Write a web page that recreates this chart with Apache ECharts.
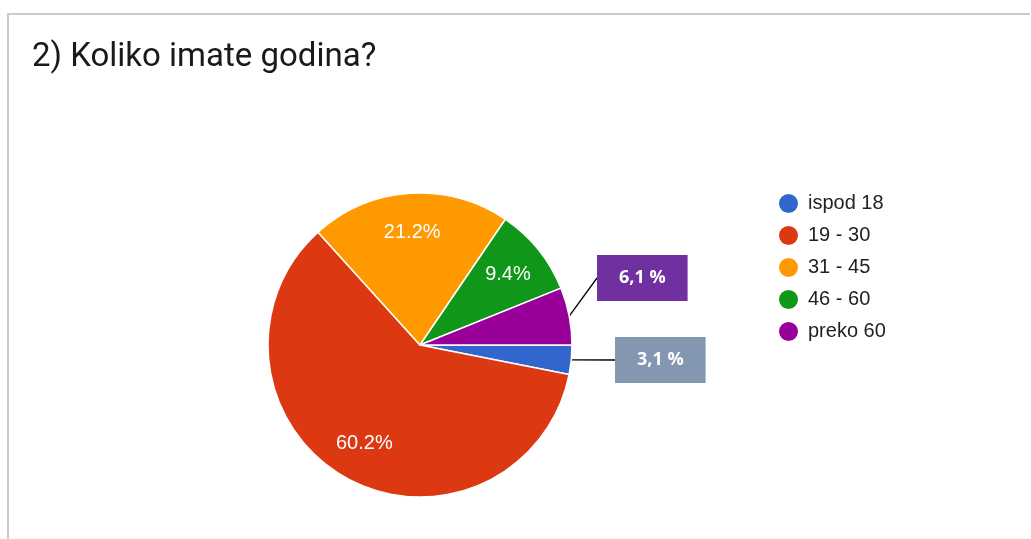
<!DOCTYPE html>
<html><head><meta charset="utf-8">
<script src="https://cdn.jsdelivr.net/npm/echarts@6/dist/echarts.min.js"></script>
<style>
html,body{margin:0;padding:0;background:#fff;overflow:hidden}
#frame{position:absolute;left:7px;top:13px;right:1px;bottom:-5px;border-top:2px solid #cbcbcb;border-left:2px solid #cbcbcb}
#c{position:absolute;left:0;top:0;width:1031px;height:539px}
</style></head>
<body><div id="frame"></div><div id="c"></div>
<script>
const titleText = '2) Koliko imate godina?';
const categories = ['ispod 18', '19 - 30', '31 - 45', '46 - 60', 'preko 60'];
const values = [3.1, 60.2, 21.2, 9.4, 6.1];
const colors = ['#3366CC', '#DC3912', '#FF9900', '#109618', '#990099'];
const insideLabelShown = [false, true, true, true, false];
const calloutShown = [true, false, false, false, true];
const calloutColors = ['#8497B0', null, null, null, '#7030A0'];

const chart = echarts.init(document.getElementById('c'), null, {renderer: 'canvas'});

const mainData = categories.map((n, i) => {
  const d = {name: n, value: values[i], itemStyle: {color: colors[i]}};
  if (calloutShown[i]) {
    d.label = {
      show: true, position: 'outside',
      formatter: p => p.value.toFixed(1).replace('.', ',') + ' %',
      color: '#fff', fontWeight: 'bold', fontSize: 18, lineHeight: 18,
      fontFamily: 'Open Sans', backgroundColor: calloutColors[i], padding: [14, 22]
    };
    d.labelLine = {show: true, length: 0, length2: 0, lineStyle: {color: '#000', width: 1.3}};
  }
  return d;
});
const overlayData = categories.map((n, i) => ({
  name: n, value: values[i],
  label: {show: insideLabelShown[i]}
}));

chart.setOption({
  animation: false,
  color: colors,
  title: {
    text: titleText, left: 27, top: 36,
    textStyle: {fontFamily: 'Roboto', fontSize: 33, fontWeight: 'normal', color: '#1a1a1a'}
  },
  legend: {
    orient: 'vertical', left: 772, top: 187,
    data: categories,
    icon: 'circle', itemWidth: 29, itemHeight: 21, itemGap: 9,
    textStyle: {fontFamily: 'Liberation Sans', fontSize: 20, color: '#222'},
    selectedMode: false
  },
  series: [
    {
      type: 'pie', center: [420, 345], radius: [0, 152],
      startAngle: 0, clockwise: true, silent: true,
      itemStyle: {borderColor: '#fff', borderWidth: 1.5},
      label: {show: false},
      labelLine: {show: false},
      labelLayout: function (p) {
        if (p.dataIndex === 0) return {x: 615, y: 360, align: 'left', verticalAlign: 'middle'};
        if (p.dataIndex === 4) return {x: 597, y: 278, align: 'left', verticalAlign: 'middle'};
        return {};
      },
      data: mainData
    },
    {
      type: 'pie', center: [420, 345], radius: [68, 152],
      startAngle: 0, clockwise: true, silent: true,
      itemStyle: {color: 'rgba(0,0,0,0)', borderWidth: 0},
      label: {
        show: true, position: 'inside',
        formatter: p => p.value.toFixed(1) + '%',
        color: '#fff', fontSize: 20, fontFamily: 'Liberation Sans'
      },
      labelLine: {show: false},
      data: overlayData
    }
  ]
});
</script>
</body></html>
